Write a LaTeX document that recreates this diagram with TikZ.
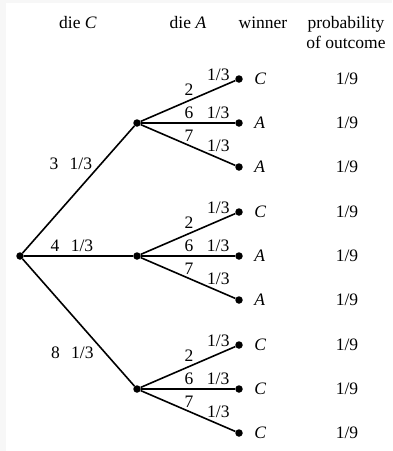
\documentclass[tikz,border=0pt]{standalone}
\usepackage{fontspec}
\setmainfont{Liberation Serif}
\usetikzlibrary{positioning}

\begin{document}
\begin{tikzpicture}[x=1pt, y=-1pt,
        font=\fontsize{17.5}{20}\selectfont,
        dot/.style={circle, fill=black, inner sep=0pt, minimum size=7.5pt},
        edge/.style={draw, line width=1.6pt},
        lbl/.style={inner sep=0pt}
        ]

        %% Page with its faint frame
        \fill[gray!6] (0,0) rectangle (392,451);
        \fill[white] (6,3) rectangle (392,451);
        \useasboundingbox (0,0) rectangle (392,451);

        %% Column headers
        \node (hC) at (78,23)  {die \textit{C}};
        \node (hA) at (188,23) {die \textit{A}};
        \node (hW) at (263,23) {winner};
        \node[align=center] (hP) at (346,33) {probability\\of outcome};

        %% Root and die C branches
        \node[dot] (root) at (20,256) {};
        \node[dot] (c3) at (137,123) {};
        \node[dot] (c4) at (137,256) {};
        \node[dot] (c8) at (137,389) {};

        \draw[edge] (root) -- node[lbl, pos=0.70, xshift=-30pt] {3\hspace{0.65em}1/3} (c3);
        \draw[edge] (root) -- node[lbl, pos=0.44, yshift=10pt]  {4\hspace{0.65em}1/3} (c4);
        \draw[edge] (root) -- node[lbl, pos=0.74, xshift=-33pt] {8\hspace{0.65em}1/3} (c8);

        %% ---- C rolls 3 ----
        \node[dot] (l32) at (239,79)  {};
        \node[dot] (l36) at (239,123) {};
        \node[dot] (l37) at (239,167) {};
        \draw[edge] (c3) -- node[lbl, pos=0.51, yshift=10.5pt] {2} node[lbl, pos=0.82, yshift=13pt] {1/3} (l32);
        \draw[edge] (c3) -- node[lbl, pos=0.51, yshift=10pt] {6} node[lbl, pos=0.82, yshift=10pt] {1/3} (l36);
        \draw[edge] (c3) -- node[lbl, pos=0.51, yshift=10pt] {7} node[lbl, pos=0.82, yshift=12pt] {1/3} (l37);
        \node[right=8pt of l32] (w32) {\textit{C}};
        \node[right=8pt of l36] (w36) {\textit{A}};
        \node[right=8pt of l37] (w37) {\textit{A}};
        \node (p32) at (347,79)  {1/9};
        \node (p36) at (347,123) {1/9};
        \node (p37) at (347,167) {1/9};

        %% ---- C rolls 4 ----
        \node[dot] (l42) at (239,212) {};
        \node[dot] (l46) at (239,256) {};
        \node[dot] (l47) at (239,300) {};
        \draw[edge] (c4) -- node[lbl, pos=0.51, yshift=10.5pt] {2} node[lbl, pos=0.82, yshift=13pt] {1/3} (l42);
        \draw[edge] (c4) -- node[lbl, pos=0.51, yshift=10pt] {6} node[lbl, pos=0.82, yshift=10pt] {1/3} (l46);
        \draw[edge] (c4) -- node[lbl, pos=0.51, yshift=10pt] {7} node[lbl, pos=0.82, yshift=12pt] {1/3} (l47);
        \node[right=8pt of l42] (w42) {\textit{C}};
        \node[right=8pt of l46] (w46) {\textit{A}};
        \node[right=8pt of l47] (w47) {\textit{A}};
        \node (p42) at (347,212) {1/9};
        \node (p46) at (347,256) {1/9};
        \node (p47) at (347,300) {1/9};

        %% ---- C rolls 8 ----
        \node[dot] (l82) at (239,345) {};
        \node[dot] (l86) at (239,389) {};
        \node[dot] (l87) at (239,433) {};
        \draw[edge] (c8) -- node[lbl, pos=0.51, yshift=10.5pt] {2} node[lbl, pos=0.82, yshift=13pt] {1/3} (l82);
        \draw[edge] (c8) -- node[lbl, pos=0.51, yshift=10pt] {6} node[lbl, pos=0.82, yshift=10pt] {1/3} (l86);
        \draw[edge] (c8) -- node[lbl, pos=0.51, yshift=10pt] {7} node[lbl, pos=0.82, yshift=12pt] {1/3} (l87);
        \node[right=8pt of l82] (w82) {\textit{C}};
        \node[right=8pt of l86] (w86) {\textit{C}};
        \node[right=8pt of l87] (w87) {\textit{C}};
        \node (p82) at (347,345) {1/9};
        \node (p86) at (347,389) {1/9};
        \node (p87) at (347,433) {1/9};

    \end{tikzpicture}
\end{document}
